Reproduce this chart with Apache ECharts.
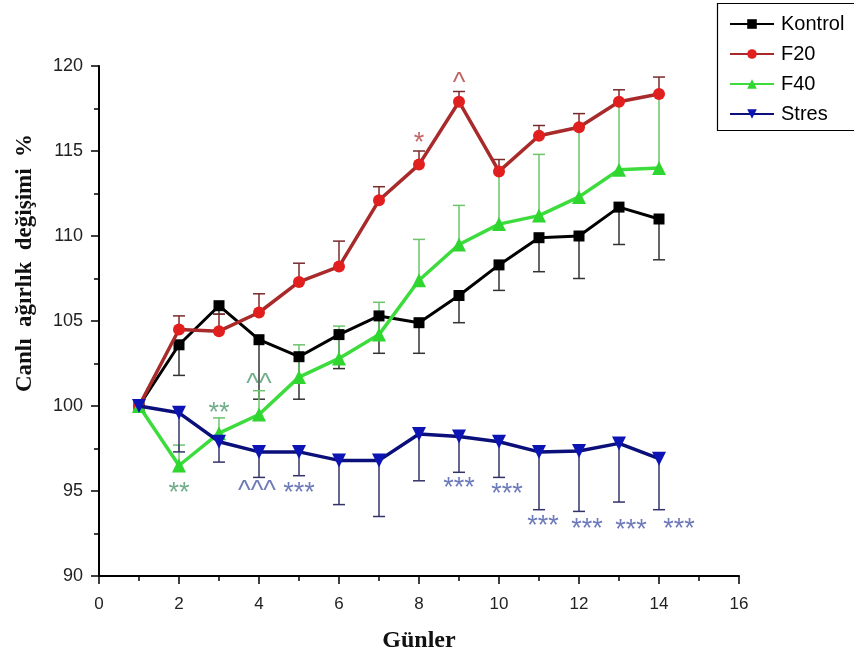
<!DOCTYPE html>
<html><head><meta charset="utf-8">
<script src="https://cdn.jsdelivr.net/npm/echarts/dist/echarts.min.js"></script>
<style>html,body{margin:0;padding:0;background:#fff}#c{width:854px;height:663px}</style>
</head><body><div id="c"></div>
<script>
// ---- data ----
const days = [1, 2, 3, 4, 5, 6, 7, 8, 9, 10, 11, 12, 13, 14];
const kontrol    = [100, 103.6, 105.9, 103.9, 102.9, 104.2, 105.3, 104.9, 106.5, 108.3, 109.9, 110.0, 111.7, 111.0];
const kontrolErr = [0, 1.8, 0.5, 3.5, 2.5, 2.0, 2.2, 1.8, 1.6, 1.5, 2.0, 2.5, 2.2, 2.4];
const f20        = [100, 104.5, 104.4, 105.5, 107.3, 108.2, 112.1, 114.2, 117.9, 113.8, 115.9, 116.4, 117.9, 118.35];
const f20Err     = [0, 0.8, 1.0, 1.1, 1.1, 1.5, 0.8, 0.8, 0.6, 0.7, 0.6, 0.8, 0.7, 1.0];
const f40        = [100, 96.5, 98.4, 99.5, 101.7, 102.8, 104.2, 107.4, 109.5, 110.7, 111.2, 112.3, 113.9, 114.0];
const f40Err     = [0, 1.2, 0.9, 1.4, 1.9, 1.9, 1.9, 2.4, 2.3, 3.1, 3.6, 4.1, 4.0, 4.35];
const stres      = [100, 99.6, 97.9, 97.3, 97.3, 96.8, 96.8, 98.35, 98.2, 97.9, 97.3, 97.35, 97.8, 96.9];
const stresErr   = [0, 2.3, 1.2, 1.5, 1.4, 2.6, 3.3, 2.75, 2.1, 2.1, 3.4, 3.55, 3.45, 3.0];
const seriesNames = ['Kontrol', 'F20', 'F40', 'Stres'];
const xTicks = [0, 2, 4, 6, 8, 10, 12, 14, 16];
const yTicks = [90, 95, 100, 105, 110, 115, 120];
// significance annotations: [x, y, text, group]
const annoX     = [8.0, 9.0, 2.0, 3.0, 4.0, 3.95, 5.0, 9.0, 10.2, 11.1, 12.2, 13.3, 14.5];
const annoY     = [115.8, 119.3, 95.2, 99.9, 101.6, 95.35, 95.2, 95.5, 95.15, 93.25, 93.1, 93.05, 93.1];
const annoText  = ['*', '^', '**', '**', '^^', '^^^', '***', '***', '***', '***', '***', '***', '***'];
const annoGroup = ['F20', 'F20', 'F40', 'F40', 'F40', 'Stres', 'Stres', 'Stres', 'Stres', 'Stres', 'Stres', 'Stres', 'Stres'];

// ---- styles ----
const lineColor = {Kontrol: '#000000', F20: '#a82a2a', F40: '#3ddc3d', Stres: '#0a0f7a'};
const markColor = {Kontrol: '#000000', F20: '#e21f1f', F40: '#2fd62f', Stres: '#0c14b4'};
const errColor  = {Kontrol: '#333333', F20: '#7a2a2a', F40: '#6cc46c', Stres: '#33336a'};
const annoColor = {F20: '#b04040', F40: '#4f9a6e', Stres: '#4a5aa8'};
const symbols = {Kontrol: 'rect', F20: 'circle', F40: 'triangle', Stres: 'path://M0,0 L10,0 L5,9 Z'};
const symSize = {Kontrol: 11, F20: 12, F40: 14, Stres: 14};

const valuesBy = {Kontrol: kontrol, F20: f20, F40: f40, Stres: stres};
const errBy = {Kontrol: kontrolErr, F20: f20Err, F40: f40Err, Stres: stresErr};
const errDir = {Kontrol: -1, F20: 1, F40: 1, Stres: -1};

function errRender(dir, color) {
  return function (params, api) {
    const x = api.value(0), y = api.value(1), e = api.value(2);
    if (!e) return null;
    const p0 = api.coord([x, y]), p1 = api.coord([x, y + dir * e]);
    const hw = 6;
    return {type: 'group', children: [
      {type: 'line', shape: {x1: p0[0], y1: p0[1], x2: p1[0], y2: p1[1]}, style: {stroke: color, lineWidth: 1.5}},
      {type: 'line', shape: {x1: p1[0] - hw, y1: p1[1], x2: p1[0] + hw, y2: p1[1]}, style: {stroke: color, lineWidth: 1.5}}
    ]};
  };
}

const series = [];
seriesNames.forEach(function (n) {
  series.push({
    type: 'custom', name: n + '_err', z: 1, silent: true,
    renderItem: errRender(errDir[n], errColor[n]),
    data: days.map(function (d, i) { return [d, valuesBy[n][i], errBy[n][i]]; })
  });
});
seriesNames.forEach(function (n, k) {
  series.push({
    type: 'line', name: n, z: 3 + k,
    data: days.map(function (d, i) { return [d, valuesBy[n][i]]; }),
    symbol: symbols[n], symbolSize: symSize[n], showSymbol: true,
    lineStyle: {color: lineColor[n], width: n === 'Kontrol' ? 3 : 3.5},
    itemStyle: {color: markColor[n], opacity: 1},
    emphasis: {disabled: true}
  });
});
series.push({
  type: 'scatter', name: 'anno', z: 10, symbolSize: 0, silent: true,
  data: annoX.map(function (x, i) {
    return {value: [x, annoY[i]], name: annoText[i],
      label: {color: annoColor[annoGroup[i]]}};
  }),
  label: {show: true, position: 'inside', formatter: '{b}', fontFamily: 'Arial, Liberation Sans',
    fontSize: 27, offset: [0, 6]}
});

const chart = echarts.init(document.getElementById('c'), null, {renderer: 'canvas'});
chart.setOption({
  animation: false,
  backgroundColor: '#ffffff',
  grid: {left: 99, right: 115, top: 66, bottom: 87, containLabel: false},
  xAxis: {
    type: 'value', min: xTicks[0], max: xTicks[xTicks.length - 1], interval: 2,
    axisLine: {lineStyle: {color: '#000', width: 2}},
    axisTick: {show: true, inside: false, length: 8, lineStyle: {color: '#000', width: 1.5}},
    minorTick: {show: true, splitNumber: 2, length: 5, lineStyle: {color: '#000', width: 1.5}},
    splitLine: {show: false},
    axisLabel: {color: '#222', fontSize: 17, fontFamily: 'Arial, Liberation Sans', margin: 20}
  },
  yAxis: {
    type: 'value', min: yTicks[0], max: yTicks[yTicks.length - 1], interval: 5,
    axisLine: {show: true, lineStyle: {color: '#000', width: 2}},
    axisTick: {show: true, inside: false, length: 8, lineStyle: {color: '#000', width: 1.5}},
    minorTick: {show: true, splitNumber: 2, length: 5, lineStyle: {color: '#000', width: 1.5}},
    splitLine: {show: false},
    axisLabel: {color: '#222', fontSize: 18, fontFamily: 'Arial, Liberation Sans', margin: 16}
  },
  legend: {
    data: seriesNames, orient: 'vertical', left: 724, top: 9,
    itemWidth: 44, itemHeight: 12, itemGap: 10,
    textStyle: {fontSize: 20, color: '#000', fontFamily: 'Arial, Liberation Sans', padding: [0, 0, 0, 2]},
    selectedMode: false
  },
  graphic: [
    {type: 'rect', left: 715, top: 1, shape: {width: 150, height: 127},
      style: {fill: 'none', stroke: '#000', lineWidth: 1.2}, z: 0},
    {type: 'text', x: 25, y: 263, rotation: Math.PI / 2,
      style: {text: 'Canlı  ağırlık  değişimi  %', font: 'bold 23px "Liberation Serif", "Times New Roman", serif',
        fill: '#111', textAlign: 'center', textVerticalAlign: 'middle'}},
    {type: 'text', x: 419, y: 641,
      style: {text: 'Günler', font: 'bold 24px "Liberation Serif", "Times New Roman", serif',
        fill: '#111', textAlign: 'center', textVerticalAlign: 'middle'}}
  ],
  series: series
});
</script>
</body></html>
